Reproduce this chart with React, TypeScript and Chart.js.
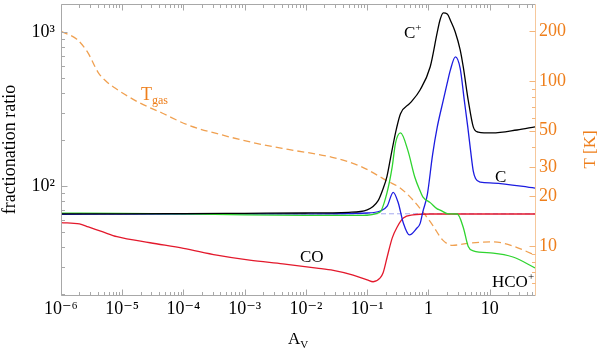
import React, { useEffect, useRef } from "react";
import { Chart, registerables } from "chart.js";
Chart.register(...registerables);

// ---- axis ticks ----
const xTickValues = [1e-6, 1e-5, 1e-4, 1e-3, 1e-2, 1e-1, 1, 10];
const xTickLabels = ["10⁻⁶", "10⁻⁵", "10⁻⁴", "10⁻³", "10⁻²", "10⁻¹", "1", "10"];
const ratioTickValues = [100, 1000];
const ratioTickLabels = ["10²", "10³"];
const tempTickValues = [10, 20, 30, 50, 100, 200];
const tempTickLabels = ["10", "20", "30", "50", "100", "200"];

const avMin = 1e-6, avMax = 55;
const ratioMin = 19.6, ratioMax = 1520;
const tempMin = 5.05, tempMax = 293;

// ---- C+ (black) ----
const cPlusAv = [1e-6, 1e-5, 1e-4, 1e-3, 0.01, 0.05, 0.1, 0.15, 0.18, 0.21, 0.25, 0.3, 0.35, 0.5, 0.73, 1.07, 1.39, 1.55, 1.75, 2.03, 2.34, 2.74, 3.3, 3.7, 4.47, 5.4, 6.5, 11, 28, 55];
const cPlusRatio = [66, 66, 66.2, 66.5, 66.8, 67.5, 70, 80, 95, 115, 165, 235, 295, 345, 420, 595, 990, 1200, 1330, 1310, 1165, 1000, 765, 595, 360, 242, 224, 221, 231, 242];

// ---- C (blue) ----
const cAv = [1e-6, 1e-4, 1e-2, 0.1, 0.163, 0.212, 0.266, 0.322, 0.389, 0.49, 0.64, 0.73, 0.81, 0.96, 1.17, 1.39, 1.75, 2.03, 2.28, 2.76, 3.3, 3.85, 4.4, 4.87, 5.4, 5.88, 7.0, 11.4, 55];
const cRatio = [65.5, 65.8, 66, 66.8, 68.8, 74, 91, 77.6, 57.5, 48.1, 53, 57, 68, 88, 160, 240, 361, 467, 566, 689, 580, 361, 240, 171, 125, 112, 106, 104.5, 97];

// ---- HCO+ (green) ----
const hcoAv = [1e-6, 1e-5, 1e-4, 1e-3, 0.01, 0.08, 0.16, 0.21, 0.256, 0.29, 0.35, 0.46, 0.6, 0.73, 0.81, 1.07, 1.39, 1.55, 2.1, 2.96, 3.7, 4.47, 5.4, 11.4, 24, 55];
const hcoRatio = [66.6, 66.5, 66, 65, 64.5, 64.5, 67.5, 90, 133, 190, 221, 171, 114, 93, 85, 78, 71, 69.8, 66, 65.8, 54, 40.5, 37.9, 36.7, 34.6, 29.4];

// ---- CO (red) ----
const coAv = [1e-6, 2e-6, 2.8e-6, 4.85e-6, 8.2e-6, 2.85e-5, 1e-4, 3.5e-4, 1.2e-3, 4.2e-3, 0.015, 0.028, 0.059, 0.1, 0.125, 0.163, 0.182, 0.212, 0.256, 0.309, 0.389, 0.56, 1.07, 55];
const coRatio = [57.8, 56.7, 54.2, 50.3, 46.9, 42.8, 39.4, 35.6, 33.0, 31.2, 29.3, 28.3, 26.4, 24.6, 23.9, 25.3, 27.3, 34.6, 45.9, 54.2, 61.9, 64.9, 65.8, 65.8];

// ---- elemental reference ratio (dashed) ----
const refAv = [1e-6, 55];
const refRatio = [66, 66];

// ---- T_gas (orange dashed, right axis) ----
const tgasAv = [1e-6, 1.82e-6, 2.76e-6, 4.03e-6, 5.24e-6, 7.63e-6, 1.81e-5, 4.47e-5, 1.19e-4, 4.27e-4, 1.48e-3, 5.12e-3, 0.0268, 0.0769, 0.146, 0.212, 0.346, 0.56, 0.81, 1.17, 1.7, 2.47, 4.6, 11.4, 24.2, 55];
const tgasK = [200, 179, 148, 113, 101, 90.7, 74.6, 64, 54.1, 47.1, 42.1, 38.5, 34.5, 30.5, 26.9, 24.8, 22.5, 19.0, 16.1, 13.4, 10.9, 10.1, 10.4, 10.6, 10.0, 8.8];

const FONT = "'Liberation Serif', 'DejaVu Serif', serif";
const ORANGE_TEXT = "#ee7f1c";
const FRAME = "#a8a8a8";

type Part = { t: string; size: number; dy?: number };
function drawRich(ctx: CanvasRenderingContext2D, parts: Part[], x: number, y: number, color: string) {
  ctx.fillStyle = color;
  ctx.textAlign = "left";
  ctx.textBaseline = "alphabetic";
  let cx = x;
  for (const p of parts) {
    ctx.font = `${p.size}px ${FONT}`;
    ctx.fillText(p.t, cx, y + (p.dy || 0));
    cx += ctx.measureText(p.t).width;
  }
}

const framePlugin = {
  id: "frameTicks",
  afterDraw(chart: any) {
    const { ctx, chartArea: a, scales } = chart;
    const xs = scales.x, yl = scales.y, yr = scales.yT;
    const L = Math.round(a.left) + 0.5, R = Math.round(a.right) + 0.5;
    const T = Math.round(a.top) + 0.5, B = Math.round(a.bottom) + 0.5;
    ctx.save();
    ctx.lineWidth = 1;
    // frame
    ctx.strokeStyle = FRAME;
    ctx.beginPath();
    ctx.moveTo(L, B); ctx.lineTo(L, T); ctx.lineTo(R, T);
    ctx.moveTo(L, B); ctx.lineTo(R, B);
    ctx.stroke();
    ctx.strokeStyle = "#f6c89c";
    ctx.beginPath(); ctx.moveTo(R, T); ctx.lineTo(R, B); ctx.stroke();

    const major = 6, minor = 3.5;
    // x ticks (bottom & top)
    ctx.strokeStyle = FRAME;
    ctx.beginPath();
    for (let e = -6; e <= 1; e++) {
      for (let k = 1; k <= 9; k++) {
        const v = k * Math.pow(10, e);
        if (v > avMax * 1.0001) continue;
        const px = Math.round(xs.getPixelForValue(v)) + 0.5;
        const len = k === 1 ? major : minor;
        ctx.moveTo(px, B); ctx.lineTo(px, B - len);
        ctx.moveTo(px, T); ctx.lineTo(px, T + len);
      }
    }
    // left ticks
    for (let e = 1; e <= 3; e++) {
      for (let k = 1; k <= 9; k++) {
        const v = k * Math.pow(10, e);
        if (v < ratioMin || v > ratioMax) continue;
        const py = Math.round(yl.getPixelForValue(v)) + 0.5;
        const len = k === 1 ? major : minor;
        ctx.moveTo(L, py); ctx.lineTo(L + len, py);
      }
    }
    ctx.stroke();
    // right ticks
    ctx.strokeStyle = "#f4b57a";
    ctx.beginPath();
    for (let e = 0; e <= 2; e++) {
      for (let k = 1; k <= 9; k++) {
        const v = k * Math.pow(10, e);
        if (v < tempMin || v > tempMax) continue;
        const py = Math.round(yr.getPixelForValue(v)) + 0.5;
        const len = tempTickValues.includes(v) ? major : minor;
        ctx.moveTo(R, py); ctx.lineTo(R - len, py);
      }
    }
    ctx.stroke();

    // curve labels
    drawRich(ctx, [{ t: "C", size: 17 }, { t: "+", size: 11, dy: -7 }], 404, 38, "#000");
    drawRich(ctx, [{ t: "C", size: 17 }], 495, 182, "#000");
    drawRich(ctx, [{ t: "CO", size: 17 }], 300, 262, "#000");
    drawRich(ctx, [{ t: "HCO", size: 17 }, { t: "+", size: 11, dy: -7 }], 492, 287, "#000");
    drawRich(ctx, [{ t: "T", size: 18 }, { t: "gas", size: 12, dy: 4 }], 141, 100, ORANGE_TEXT);

    // axis titles
    drawRich(ctx, [{ t: "A", size: 17 }, { t: "V", size: 11, dy: 4 }], 288, 344, "#000");
    ctx.save();
    ctx.translate(15, (a.top + a.bottom) / 2);
    ctx.rotate(-Math.PI / 2);
    ctx.font = `18px ${FONT}`;
    ctx.fillStyle = "#000";
    ctx.textAlign = "center";
    ctx.textBaseline = "alphabetic";
    ctx.fillText("fractionation ratio", 0, 0);
    ctx.restore();
    ctx.save();
    ctx.translate(595, (a.top + a.bottom) / 2);
    ctx.rotate(-Math.PI / 2);
    ctx.font = `17px ${FONT}`;
    ctx.fillStyle = ORANGE_TEXT;
    ctx.textAlign = "center";
    ctx.textBaseline = "alphabetic";
    ctx.fillText("T [K]", 0, 0);
    ctx.restore();
    ctx.restore();
  },
};

const pts = (xs: number[], ys: number[]) => xs.map((x, i) => ({ x, y: ys[i] }));

export default function App() {
  const ref = useRef<HTMLCanvasElement>(null);
  useEffect(() => {
    const canvas = ref.current!;
    const chart = new Chart(canvas, {
      type: "line",
      data: {
        datasets: [
          { label: "C+", data: pts(cPlusAv, cPlusRatio), borderColor: "#000000", yAxisID: "y", order: 1 },
          { label: "HCO+", data: pts(hcoAv, hcoRatio), borderColor: "#2fd42f", yAxisID: "y", order: 2 },
          { label: "C", data: pts(cAv, cRatio), borderColor: "#1c1ce0", yAxisID: "y", order: 3 },
          { label: "CO", data: pts(coAv, coRatio), borderColor: "#e3192c", yAxisID: "y", order: 4 },
          { label: "Tgas", data: pts(tgasAv, tgasK), borderColor: "#f0a050", borderDash: [7, 4], yAxisID: "yT", order: 5 },
          { label: "ref", data: pts(refAv, refRatio), borderColor: "#a4a8f0", borderWidth: 1, borderDash: [5, 3], yAxisID: "y", order: 6, cubicInterpolationMode: "default", tension: 0 },
        ] as any,
      },
      options: {
        responsive: false,
        animation: false,
        devicePixelRatio: 1,
        layout: { padding: { top: 4, left: 0, right: 0, bottom: 0 } },
        plugins: { legend: { display: false }, tooltip: { enabled: false } },
        elements: {
          point: { radius: 0 },
          line: { borderWidth: 1.3, cubicInterpolationMode: "monotone", fill: false },
        },
        scales: {
          x: {
            type: "logarithmic",
            position: "bottom",
            min: avMin,
            max: avMax,
            grid: { display: false, drawTicks: false },
            border: { display: false },
            afterBuildTicks: (s: any) => { s.ticks = xTickValues.map((value) => ({ value })); },
            afterFit: (s: any) => { s.height = 57; s.paddingLeft = 0; s.paddingRight = 0; },
            ticks: {
              autoSkip: false, maxRotation: 0, minRotation: 0, padding: 3, color: "#000",
              font: { family: FONT, size: 18 },
              callback: (_v: any, i: number) => xTickLabels[i],
            },
          },
          y: {
            type: "logarithmic",
            position: "left",
            min: ratioMin,
            max: ratioMax,
            grid: { display: false, drawTicks: false },
            border: { display: false },
            afterBuildTicks: (s: any) => { s.ticks = ratioTickValues.map((value) => ({ value })); },
            afterFit: (s: any) => { s.width = 61; s.paddingTop = 0; s.paddingBottom = 0; },
            ticks: {
              autoSkip: false, padding: 6, color: "#000",
              font: { family: FONT, size: 18 },
              callback: (_v: any, i: number) => ratioTickLabels[i],
            },
          },
          yT: {
            type: "logarithmic",
            position: "right",
            min: tempMin,
            max: tempMax,
            grid: { display: false, drawTicks: false },
            border: { display: false },
            afterBuildTicks: (s: any) => { s.ticks = tempTickValues.map((value) => ({ value })); },
            afterFit: (s: any) => { s.width = 65; s.paddingTop = 0; s.paddingBottom = 0; },
            ticks: {
              autoSkip: false, padding: 4, color: ORANGE_TEXT,
              font: { family: FONT, size: 18 },
              callback: (_v: any, i: number) => tempTickLabels[i],
            },
          },
        },
      } as any,
      plugins: [framePlugin],
    });
    return () => chart.destroy();
  }, []);
  return (
    <div style={{ position: "absolute", left: 0, top: 0, width: 600, height: 352 }}>
      <canvas ref={ref} width={600} height={352} style={{ display: "block" }} />
    </div>
  );
}
